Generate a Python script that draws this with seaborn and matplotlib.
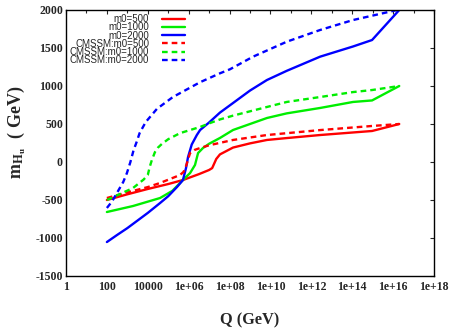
import numpy as np
import pandas as pd
import matplotlib
matplotlib.use("Agg")
import matplotlib.pyplot as plt
import seaborn as sns
from matplotlib.ticker import FixedLocator, NullFormatter

# log10(Q / GeV) and m_Hu (GeV)
logq_500 = [2.0, 3.0, 4.0, 5.0, 5.72, 6.5, 7.0, 7.15, 7.25, 7.35, 7.53, 8.17, 9.0, 9.83, 10.8, 12.43, 14.97, 16.3]
mhu_500 = [-500, -425, -355, -290, -237, -160, -105, -80, -20, 40, 100, 190, 245, 290, 315, 355, 408, 500]

logq_1000 = [2.0, 3.28, 4.6, 5.2, 5.72, 6.07, 6.31, 6.41, 6.46, 6.7, 7.0, 7.53, 8.17, 9.83, 10.8, 12.43, 14.04, 14.97, 16.3]
mhu_1000 = [-658, -579, -474, -380, -237, -145, -39, 66, 118, 184, 240, 316, 421, 579, 640, 711, 790, 810, 1000]

logq_2000 = [2.0, 2.5, 3.0, 3.5, 4.0, 4.6, 5.0, 5.43, 5.72, 5.87, 5.97, 6.15, 6.4, 6.56, 7.0, 7.53, 8.17, 9.0, 9.83, 10.8, 12.43, 14.04, 14.97, 16.3]
mhu_2000 = [-1053, -960, -870, -770, -670, -540, -450, -329, -237, -80, 66, 230, 355, 421, 520, 650, 776, 940, 1079, 1200, 1386, 1520, 1605, 2000]

logq_c500 = [2.0, 3.0, 4.0, 4.6, 5.58, 5.75, 5.85, 5.92, 6.0, 6.07, 6.3, 6.56, 7.0, 8.17, 9.83, 12.43, 14.97, 16.3]
mhu_c500 = [-474, -400, -330, -276, -171, -130, -70, -13, 60, 118, 160, 184, 220, 290, 355, 420, 474, 500]

logq_c1000 = [2.0, 3.28, 3.8, 4.0, 4.1, 4.2, 4.35, 4.5, 4.7, 5.0, 5.58, 6.56, 7.05, 7.53, 8.17, 9.83, 10.8, 12.43, 14.04, 14.97, 16.3]
mhu_c1000 = [-500, -342, -230, -171, -60, 26, 130, 190, 240, 300, 380, 461, 513, 560, 610, 724, 790, 855, 920, 947, 1000]

logq_c2000 = [2.0, 2.25, 2.49, 2.8, 2.98, 3.15, 3.3, 3.45, 3.6, 3.9, 4.45, 5.23, 6.56, 7.53, 8.02, 9.15, 10.8, 12.43, 14.04, 16.2]
mhu_c2000 = [-605, -520, -408, -263, -145, 0, 150, 260, 380, 526, 700, 855, 1050, 1167, 1220, 1386, 1583, 1737, 1868, 2000]

labels = ["m0=500", "m0=1000", "m0=2000", "CMSSM:m0=500", "CMSSM:m0=1000", "CMSSM:m0=2000"]
colors = ["#ff0000", "#00ee00", "#0000ff", "#ff0000", "#00ee00", "#0000ff"]

xtick_pos = [1, 1e2, 1e4, 1e6, 1e8, 1e10, 1e12, 1e14, 1e16, 1e18]
xtick_labels = ["1", "100", "10000", "1e+06", "1e+08", "1e+10", "1e+12", "1e+14", "1e+16", "1e+18"]
ytick_pos = [-1500, -1000, -500, 0, 500, 1000, 1500, 2000]

series = [(logq_500, mhu_500), (logq_1000, mhu_1000), (logq_2000, mhu_2000),
          (logq_c500, mhu_c500), (logq_c1000, mhu_c1000), (logq_c2000, mhu_c2000)]

frames = []
for name, (lq, m) in zip(labels, series):
    frames.append(pd.DataFrame({"Q": 10.0 ** np.array(lq), "mHu": m, "curve": name}))
df = pd.concat(frames, ignore_index=True)

sns.set_style("white")
plt.rcParams["font.family"] = ["Liberation Serif", "DejaVu Serif"]
plt.rcParams["mathtext.fontset"] = "stix"

fig = plt.figure(figsize=(4.55, 3.31), dpi=100)
ax = fig.add_axes([66 / 455, 1 - 276 / 331, 368 / 455, 266 / 331])

dashes = {name: ("" if i < 3 else (2.4, 1.7)) for i, name in enumerate(labels)}
sns.lineplot(data=df, x="Q", y="mHu", hue="curve", style="curve",
             hue_order=labels, style_order=labels,
             palette=dict(zip(labels, colors)), dashes=dashes,
             estimator=None, sort=False, linewidth=1.7, ax=ax)

ax.set_xscale("log")
ax.set_xlim(1, 1e18)
ax.set_ylim(-1500, 2000)
ax.xaxis.set_major_locator(FixedLocator(xtick_pos))
ax.set_xticklabels(xtick_labels)
ax.xaxis.set_minor_locator(FixedLocator([10.0 ** k for k in range(1, 18, 2)]))
ax.xaxis.set_minor_formatter(NullFormatter())
ax.set_yticks(ytick_pos)
ax.set_yticklabels([str(v) for v in ytick_pos])
ax.tick_params(which="both", direction="in", top=True, right=True, width=0.8,
               labelsize=8.5)
ax.tick_params(axis="x", pad=3.5)
ax.tick_params(axis="y", pad=2.2)
ax.tick_params(which="major", length=3)
ax.tick_params(which="minor", length=2)
for lab in ax.get_xticklabels() + ax.get_yticklabels():
    lab.set_fontweight("bold")
for sp in ax.spines.values():
    sp.set_linewidth(1.0)
    sp.set_color("black")

ax.set_xlabel("Q (GeV)", fontsize=11.8, fontweight="bold")
ax.xaxis.set_label_coords(0.5, -0.135)
ax.set_ylabel(r"$\mathbf{m_{H_u}}$  ( GeV)", fontsize=13, fontweight="bold")
ax.yaxis.set_label_coords(-0.103, 0.54)

handles, _ = ax.get_legend_handles_labels()
ax.legend(handles, labels, loc="upper right", bbox_to_anchor=(0.342, 1.01),
          frameon=False, markerfirst=False, handlelength=2.4, handletextpad=1.3,
          labelspacing=-0.18, borderpad=0.2,
          prop={"family": "Liberation Sans", "size": 7.0})

fig.savefig("out.png", dpi=100)
